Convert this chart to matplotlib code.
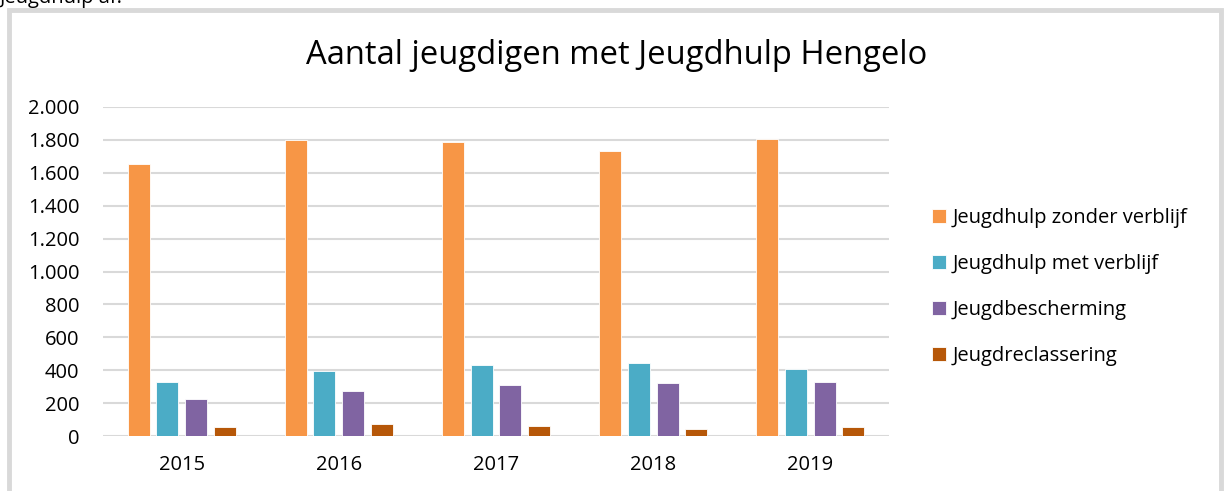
import numpy as np
import matplotlib
matplotlib.use("Agg")
import matplotlib.pyplot as plt
from matplotlib.patches import Rectangle
from matplotlib.ticker import FuncFormatter

plt.rcParams["font.family"] = ["Open Sans", "DejaVu Sans"]

years = ["2015", "2016", "2017", "2018", "2019"]
series = ["Jeugdhulp zonder verblijf", "Jeugdhulp met verblijf",
          "Jeugdbescherming", "Jeugdreclassering"]
zonder_verblijf = [1655, 1800, 1790, 1735, 1805]
met_verblijf = [326, 395, 430, 444, 405]
bescherming = [225, 275, 308, 320, 328]
reclassering = [57, 75, 61, 43, 53]
colors = ["#F79646", "#4BACC6", "#8064A2", "#B65708"]

W, H = 1224, 491
fig = plt.figure(figsize=(W / 100, H / 100), dpi=100)

# plot area in pixels: x 103..889, y 107..436
ax = fig.add_axes([103 / W, 1 - 436 / H, (889 - 103) / W, (436 - 107) / H])

x = np.arange(len(years))
w = 0.14
step = 0.182
for i, (vals, c, name) in enumerate(zip(
        [zonder_verblijf, met_verblijf, bescherming, reclassering], colors, series)):
    ax.bar(x + (i - 1.5) * step, vals, w, color=c, label=name,
           edgecolor="white", linewidth=0.6, zorder=3)

ax.set_xlim(-0.5, len(years) - 0.5)
ax.set_ylim(0, 2000)
ax.set_yticks(np.arange(0, 2001, 200))
ax.yaxis.set_major_formatter(FuncFormatter(lambda v, p: f"{int(v):,}".replace(",", ".")))
ax.set_xticks(x)
ax.set_xticklabels(years)
ax.grid(axis="y", color="#D9D9D9", linewidth=1.5, zorder=0)
for s in ["top", "right", "left", "bottom"]:
    ax.spines[s].set_visible(False)
ax.tick_params(axis="both", length=0, labelsize=14.5, colors="#000000")
ax.tick_params(axis="y", pad=17)
ax.tick_params(axis="x", pad=14)

fig.text(617 / W, 1 - 55 / H, "Aantal jeugdigen met Jeugdhulp Hengelo",
         ha="center", va="center", fontsize=23.6)

leg = fig.legend(loc="center left", bbox_to_anchor=(914 / W, 1 - 287 / H),
                 frameon=False, fontsize=14.5, handlelength=0.7, handleheight=0.7,
                 handletextpad=0.3, labelspacing=1.3)

# page text above the chart, cut off at the top
fig.text(0 / W, 1 + 2 / H, "Jeugdhulp af.", ha="left", va="center", fontsize=14.5)

# chart frame (bottom cut off)
fig.add_artist(Rectangle((8.5 / W, -0.05), (1221 - 8.5) / W, 1.05 - 10.5 / H,
                         transform=fig.transFigure, fill=False,
                         edgecolor="#D9D9D9", linewidth=3.5))

fig.savefig("out.png", dpi=100)
